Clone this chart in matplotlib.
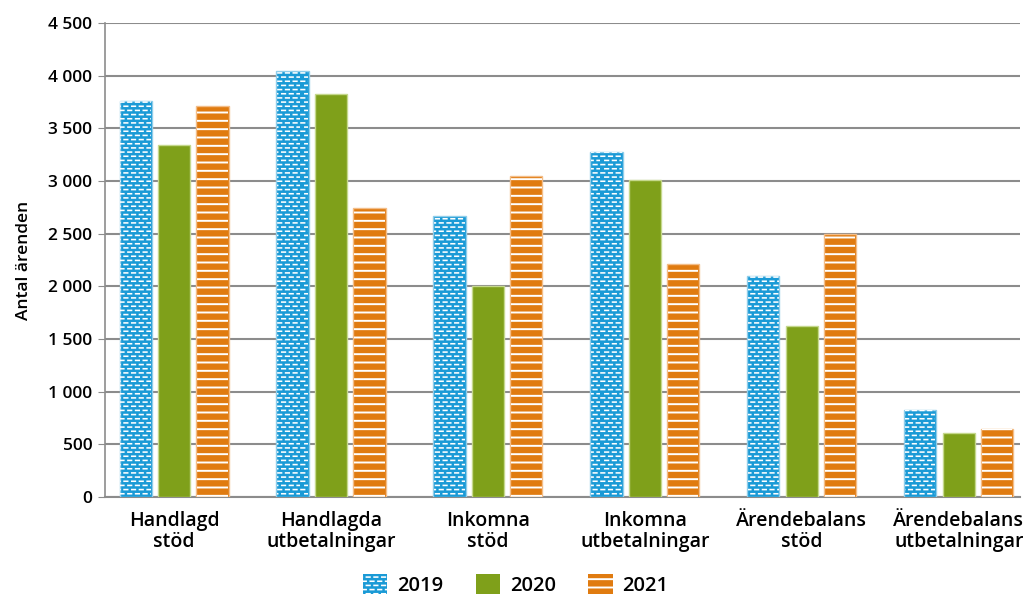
import matplotlib
matplotlib.use("Agg")
import matplotlib.pyplot as plt
import matplotlib.ticker as mticker
import matplotlib.patches as mpatches
import matplotlib.hatch as mhatch
from matplotlib.path import Path
import numpy as np

categories = ["Handlagd\nstöd", "Handlagda\nutbetalningar", "Inkomna\nstöd",
              "Inkomna\nutbetalningar", "Ärendebalans\nstöd", "Ärendebalans\nutbetalningar"]
years = ["2019", "2020", "2021"]
v2019 = [3760, 4045, 2670, 3280, 2100, 830]
v2020 = [3345, 3830, 2005, 3010, 1625, 610]
v2021 = [3715, 2745, 3050, 2215, 2500, 650]

colors = ["#1a9ad6", "#7fa01a", "#e07b10"]
edges = ["#8fcdea", "#c5d88c", "#f3bd88"]


# custom staggered-dash hatch (replaces the 'O' pattern)
class StaggeredDashes(mhatch.HatchPatternBase):
    NR, NC = 24, 13

    def __init__(self, hatch, density):
        self.on = hatch.count('O') > 0
        self.num_vertices = 2 * self.NR * self.NC if self.on else 0

    def set_vertices_and_codes(self, vertices, codes):
        L = 0.036
        pts = []
        for r in range(self.NR):
            y = (r + 0.5) / self.NR
            for c in range(self.NC):
                x0 = (c + 0.5 * (r % 2)) / self.NC + 0.01
                pts.append((x0, y))
                pts.append((x0 + L, y))
        vertices[:] = np.array(pts)
        codes[0::2] = Path.MOVETO
        codes[1::2] = Path.LINETO


for idx, ht in enumerate(mhatch._hatch_types):
    if ht is mhatch.LargeCircles:
        mhatch._hatch_types[idx] = StaggeredDashes

plt.rcParams['font.family'] = ['Open Sans', 'DejaVu Sans']
plt.rcParams['hatch.linewidth'] = 1.0

fig = plt.figure(figsize=(10.23, 5.96), dpi=100)
ax = fig.add_axes([105/1023, 99/596, (1020-105)/1023, (497-23)/596])

x = np.arange(len(categories))
w = 0.205
off = 0.245
series = [v2019, v2020, v2021]
hatches = ["O", None, "--"]
hatch_lw = [1.15, 1.0, 1.4]

for i, vals in enumerate(series):
    xs = x + (i - 1) * off
    ax.bar(xs, vals, width=w, color=colors[i], edgecolor=edges[i], linewidth=1, zorder=3)
    if hatches[i]:
        plt.rcParams['hatch.linewidth'] = hatch_lw[i]
        bc = ax.bar(xs, vals, width=w - 0.012, facecolor='none', edgecolor='white', linewidth=0,
                    hatch=hatches[i], zorder=4)
        for p in bc:
            if hasattr(p, 'set_hatch_linewidth'):
                p.set_hatch_linewidth(hatch_lw[i])
plt.rcParams['hatch.linewidth'] = 1.0

ax.set_xlim(-0.44, 5.39)
ax.set_ylim(0, 4500)
ax.yaxis.set_major_locator(mticker.MultipleLocator(500))
ax.yaxis.set_major_formatter(mticker.FuncFormatter(lambda v, p: f"{int(v):,}".replace(",", " ")))
ax.grid(axis='y', color='#8c8c8c', linewidth=1.5, zorder=0)
for s in ['top', 'right']:
    ax.spines[s].set_visible(False)
ax.spines['left'].set_color('#8c8c8c')
ax.spines['bottom'].set_color('#8c8c8c')
ax.spines['left'].set_linewidth(1.2)
ax.spines['bottom'].set_linewidth(1.5)
ax.tick_params(axis='y', length=5, color='#8c8c8c', labelsize=12.5, pad=4)
ax.tick_params(axis='x', length=0, labelsize=14, pad=10)
ax.set_xticks(x)
ax.set_xticklabels(categories, fontweight='semibold', linespacing=1.1)
for t in ax.get_yticklabels():
    t.set_fontweight('semibold')
ax.set_ylabel("Antal ärenden", fontsize=12.5, fontweight='semibold', labelpad=12)

handles = [mpatches.Patch(facecolor=colors[i], edgecolor=colors[i], linewidth=0) for i in range(3)]
leg = fig.legend(handles, years, loc='center', bbox_to_anchor=(516/1023, 1 - 585/596), ncol=3,
                 frameon=False, fontsize=14.5, handlelength=1.2, handleheight=1.1,
                 columnspacing=1.6, handletextpad=0.5)
for t in leg.get_texts():
    t.set_fontweight('semibold')
# hatch overlays on legend patches
fig.canvas.draw()
for i, hp in enumerate(leg.legend_handles):
    if hatches[i]:
        bb = hp.get_window_extent()
        plt.rcParams['hatch.linewidth'] = hatch_lw[i]
        rect = mpatches.Rectangle((bb.x0, bb.y0), bb.width, bb.height, transform=None,
                                  facecolor='none', edgecolor='white', linewidth=0,
                                  hatch=hatches[i], zorder=10)
        if hasattr(rect, 'set_hatch_linewidth'):
            rect.set_hatch_linewidth(hatch_lw[i])
        fig.patches.append(rect)

fig.savefig("out.png", dpi=100)
